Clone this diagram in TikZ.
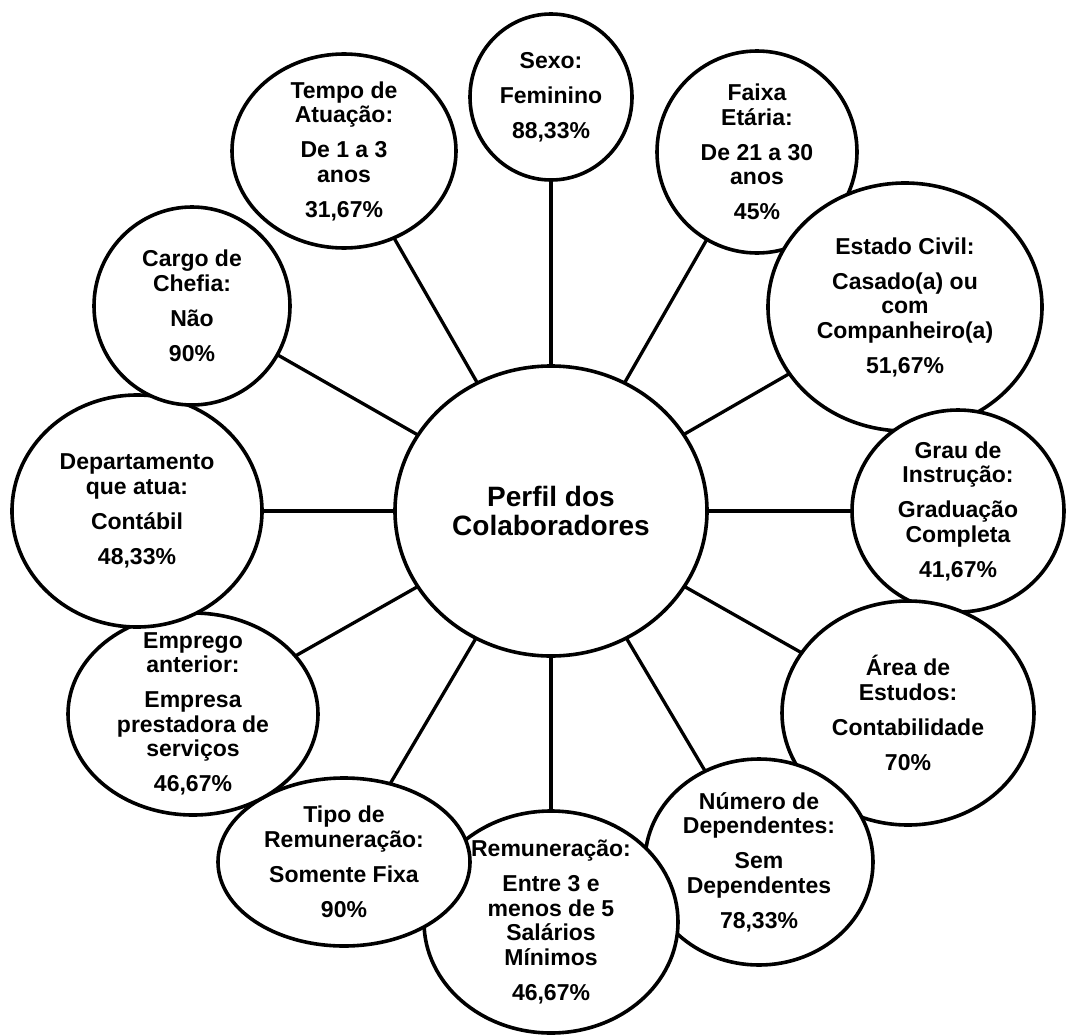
\documentclass[tikz,border=0pt]{standalone}
\usepackage{fontspec}
\setmainfont{Liberation Sans}
\usetikzlibrary{shapes.geometric}
\tikzset{
  bubble/.style={ellipse, draw=black, line width=3.6pt, fill=white, inner sep=0pt, outer sep=0pt},
  btext/.style={align=center, inner sep=0pt, font=\bfseries\fontsize{23}{24.5}\selectfont},
  ctext/.style={align=center, inner sep=0pt, font=\bfseries\fontsize{28}{28.5}\selectfont},
  link/.style={draw=black, line width=3.3pt},
}
\newcommand{\gp}{\\[10.5pt]}
\begin{document}
\begin{tikzpicture}[x=1pt,y=-1pt]
\useasboundingbox (0,0) rectangle (1071,1036);
% positions
\coordinate (pc) at (551,511);
\coordinate (p1) at (551,97);
\coordinate (p2) at (757,152);
\coordinate (p3) at (905,307);
\coordinate (p4) at (958,511);
\coordinate (p5) at (908,713);
\coordinate (p6) at (759,862);
\coordinate (p7) at (551,922);
\coordinate (p8) at (344,862);
\coordinate (p9) at (193,714);
\coordinate (p10) at (137,511);
\coordinate (p11) at (192,306);
\coordinate (p12) at (344,151);
% connectors (drawn first, ellipses cover their ends)
\foreach \i in {1,...,12} { \draw[link] (pc) -- (p\i); }
% outer ellipses, clockwise
\node[bubble, minimum width=162pt, minimum height=166pt] (e1) at (p1) {};
\node[bubble, minimum width=200pt, minimum height=202pt] (e2) at (p2) {};
\node[bubble, minimum width=274pt, minimum height=248pt] (e3) at (p3) {};
\node[bubble, minimum width=212pt, minimum height=202pt] (e4) at (p4) {};
\node[bubble, minimum width=252pt, minimum height=224pt] (e5) at (p5) {};
\node[bubble, minimum width=228pt, minimum height=206pt] (e6) at (p6) {};
\node[bubble, minimum width=254pt, minimum height=222pt] (e7) at (p7) {};
\node[bubble, minimum width=252pt, minimum height=168pt] (e8) at (p8) {};
\node[bubble, minimum width=250pt, minimum height=202pt] (e9) at (p9) {};
\node[bubble, minimum width=250pt, minimum height=232pt] (e10) at (p10) {};
\node[bubble, minimum width=196pt, minimum height=198pt] (e11) at (p11) {};
\node[bubble, minimum width=224pt, minimum height=194pt] (e12) at (p12) {};
\node[bubble, minimum width=312pt, minimum height=290pt] (ec) at (pc) {};
% texts
\node[ctext] (tc) at (ec.center) {Perfil dos\\Colaboradores};
\node[btext] (t1) at (e1.center) {Sexo:\gp Feminino\gp 88,33\%};
\node[btext] (t2) at (e2.center) {Faixa\\Etária:\gp De 21 a 30\\anos\gp 45\%};
\node[btext] (t3) at (e3.center) {Estado Civil:\gp Casado(a) ou\\com\\Companheiro(a)\gp 51,67\%};
\node[btext] (t4) at (e4.center) {Grau de\\Instrução:\gp Graduação\\Completa\gp 41,67\%};
\node[btext] (t5) at (e5.center) {Área de\\Estudos:\gp Contabilidade\gp 70\%};
\node[btext] (t6) at (e6.center) {Número de\\Dependentes:\gp Sem\\Dependentes\gp 78,33\%};
\node[btext] (t7) at (e7.center) {Remuneração:\gp Entre 3 e\\menos de 5\\Salários\\Mínimos\gp 46,67\%};
\node[btext] (t8) at (e8.center) {Tipo de\\Remuneração:\gp Somente Fixa\gp 90\%};
\node[btext] (t9) at (e9.center) {Emprego\\anterior:\gp Empresa\\prestadora de\\serviços\gp 46,67\%};
\node[btext] (t10) at (e10.center) {Departamento\\que atua:\gp Contábil\gp 48,33\%};
\node[btext] (t11) at (e11.center) {Cargo de\\Chefia:\gp Não\gp 90\%};
\node[btext] (t12) at (e12.center) {Tempo de\\Atuação:\gp De 1 a 3\\anos\gp 31,67\%};
\end{tikzpicture}
\end{document}
